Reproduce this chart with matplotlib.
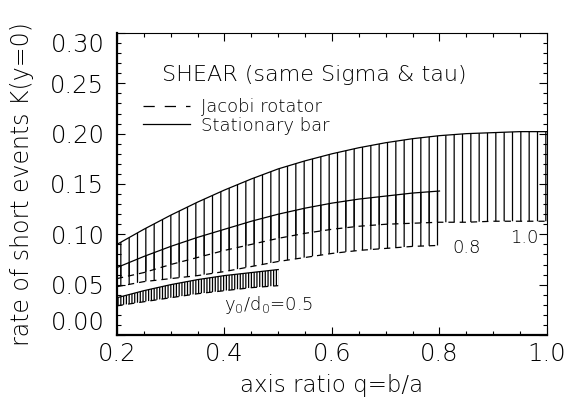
import numpy as np
import matplotlib; matplotlib.use("Agg")
import matplotlib.pyplot as plt
from matplotlib.lines import Line2D

plt.rcParams["font.family"] = ["DejaVu Sans"]
plt.rcParams["font.weight"] = "light"
plt.rcParams["axes.labelweight"] = "light"
plt.rcParams["mathtext.default"] = "regular"
plt.rcParams["hatch.linewidth"] = 0.9

# y0/d0 = 1.0
q_10 = [0.20, 0.25, 0.30, 0.35, 0.40, 0.45, 0.50, 0.55, 0.60, 0.65, 0.70, 0.75, 0.80, 0.85, 0.90, 0.95, 1.00]
bar_10 = [0.090, 0.105, 0.119, 0.132, 0.144, 0.155, 0.165, 0.173, 0.180, 0.186, 0.191, 0.195, 0.198, 0.200, 0.201, 0.202, 0.202]
jac_10 = [0.056, 0.062, 0.070, 0.077, 0.084, 0.090, 0.096, 0.101, 0.105, 0.108, 0.110, 0.111, 0.112, 0.112, 0.113, 0.113, 0.113]
# y0/d0 = 0.8
q_08 = [0.20, 0.25, 0.30, 0.35, 0.40, 0.45, 0.50, 0.55, 0.60, 0.65, 0.70, 0.75, 0.80]
bar_08 = [0.067, 0.078, 0.088, 0.097, 0.105, 0.113, 0.120, 0.126, 0.131, 0.135, 0.138, 0.141, 0.143]
jac_08 = [0.048, 0.053, 0.056, 0.059, 0.063, 0.068, 0.073, 0.077, 0.081, 0.084, 0.086, 0.088, 0.089]
# y0/d0 = 0.5
q_05 = [0.20, 0.25, 0.30, 0.35, 0.40, 0.45, 0.50]
bar_05 = [0.037, 0.044, 0.050, 0.055, 0.059, 0.062, 0.065]
jac_05 = [0.029, 0.033, 0.037, 0.041, 0.044, 0.047, 0.049]

xticks = [0.2, 0.4, 0.6, 0.8, 1.0]
yticks = [0.00, 0.05, 0.10, 0.15, 0.20, 0.25, 0.30]

fig = plt.figure(figsize=(5.67, 4.18), dpi=100)
ax = fig.add_axes([0.2063, 0.1986, 0.7584, 0.7225])

bands = [(q_10, bar_10, jac_10, "||"), (q_08, bar_08, jac_08, "||"), (q_05, bar_05, jac_05, "||||||")]
for q, top, bot, h in bands:
    ax.fill_between(q, bot, top, facecolor="none", edgecolor="black", lw=0, hatch=h)
    ax.plot(q, top, color="black", lw=0.9)
    ax.plot(q, bot, color="black", lw=0.9, dashes=(5, 4))

ax.set_xlim(0.2, 1.0)
ax.set_ylim(0.0, 0.30)
ax.set_xticks(xticks)
ax.set_xticklabels([f"{v:.1f}" for v in xticks])
ax.set_yticks(yticks)
ax.set_yticklabels([f"{v:.2f}" for v in yticks])
ax.set_xticks(np.arange(0.2, 1.0001, 0.05), minor=True)
ax.set_yticks(np.arange(0.0, 0.3001, 0.01), minor=True)
ax.tick_params(which="both", direction="in", top=True, right=True, width=0.8, labelsize=17.5)
ax.tick_params(axis="x", pad=5)
ax.tick_params(axis="y", pad=9)
ax.tick_params(which="major", length=6)
ax.tick_params(which="minor", length=3)
ax.spines["bottom"].set_linewidth(1.6)
ax.spines["left"].set_linewidth(1.6)
ax.spines["top"].set_linewidth(0.8)
ax.spines["right"].set_linewidth(0.8)
yt = ax.yaxis.get_major_ticks()
yt[0].label1.set_va("bottom")
yt[-1].label1.set_va("top")

ax.set_xlabel("axis ratio q=b/a", fontsize=16.5, labelpad=6)
ax.set_ylabel("rate of short events K(y=0)", fontsize=17, labelpad=12)

ax.text(0.105, 0.861, "SHEAR (same Sigma & tau)", transform=ax.transAxes, fontsize=16, va="center")
handles = [Line2D([], [], color="black", lw=0.9, dashes=(9, 8)), Line2D([], [], color="black", lw=0.9)]
ax.legend(handles, ["Jacobi rotator", "Stationary bar"], loc="upper left", bbox_to_anchor=(0.04, 0.815),
          frameon=False, fontsize=13, handlelength=2.6, labelspacing=0.05, borderpad=0, handletextpad=0.6)

ax.text(0.957, 0.096, "1.0", fontsize=13, ha="center", va="center")
ax.text(0.851, 0.086, "0.8", fontsize=13, ha="center", va="center")
ax.text(0.40, 0.030, "y$_0$/d$_0$=0.5", fontsize=13, ha="left", va="center")

fig.savefig("out.png", dpi=100)
